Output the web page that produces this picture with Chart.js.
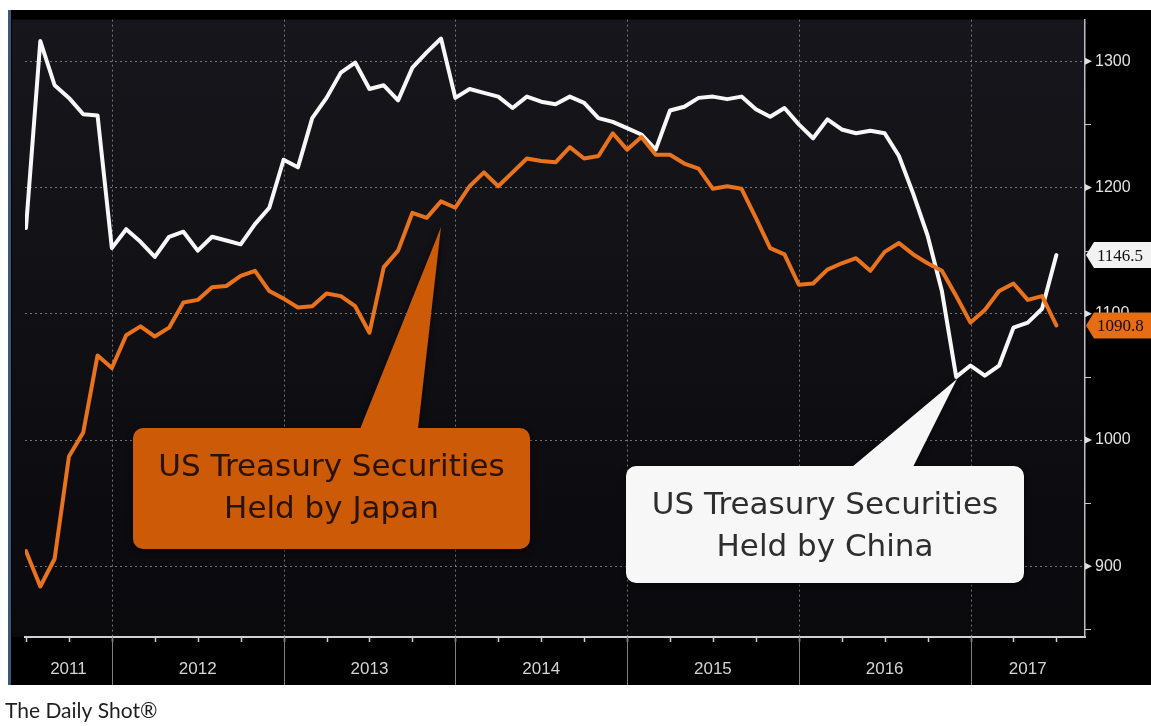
<!DOCTYPE html>
<html>
<head>
<meta charset="utf-8">
<title>US Treasury Securities held by China and Japan</title>
<script src="https://cdn.jsdelivr.net/npm/chart.js@4.4.1/dist/chart.umd.min.js"></script>
<style>
  html, body { margin: 0; padding: 0; background: #fff; }
  canvas { display: block; }
</style>
</head>
<body>
<canvas id="myChart" width="1151" height="726"></canvas>
<script>
// monthly holdings, USD bn, first point = end of June 2011
const firstMonth = 6; // months counted from Jan 2011
const chinaHoldings = [
  1168, 1316, 1281, 1271, 1258, 1257, 1152, 1167, 1157, 1145,
  1161, 1165, 1150, 1161, 1158, 1155, 1171, 1184, 1222, 1216,
  1255, 1271, 1291, 1299, 1278, 1281, 1269, 1295, 1307, 1318,
  1271, 1278, 1275, 1272, 1263, 1272, 1268, 1266, 1272, 1267,
  1255, 1252, 1247, 1242, 1230, 1261, 1264, 1271, 1272, 1270,
  1272, 1262, 1256, 1263, 1250, 1239, 1254, 1246, 1243, 1245,
  1243, 1225, 1195, 1162, 1118, 1050, 1059, 1051, 1059, 1089,
  1093, 1104, 1146.5
];
const japanHoldings = [
  912, 884, 906, 987, 1006, 1067, 1057, 1083, 1090, 1082,
  1089, 1109, 1111, 1121, 1122, 1130, 1134, 1118, 1112, 1105,
  1106, 1116, 1114, 1106, 1085, 1137, 1150, 1180, 1176, 1189,
  1184, 1201, 1212, 1201, 1212, 1223, 1221, 1220, 1232, 1223,
  1225, 1243, 1230, 1240, 1226, 1226, 1219, 1215, 1199, 1201,
  1199, 1176, 1152, 1147, 1123, 1124, 1135, 1140, 1144, 1134,
  1149, 1156, 1147, 1140, 1134, 1114, 1093, 1103, 1118, 1124,
  1111, 1114, 1090.8
];
const yearLabels = ['2011', '2012', '2013', '2014', '2015', '2016', '2017'];
const yMajorTicks = [900, 1000, 1100, 1200, 1300];
const yMinorTicks = [850, 950, 1050, 1150, 1250];

const xMin = 5.93, xMax = 80;

function toPoints(arr) {
  return arr.map((v, i) => ({ x: firstMonth + i, y: v }));
}

// year label sits in the middle of the visible part of each year
function yearCenters() {
  return yearLabels.map((y, k) => {
    const a = Math.max(k * 12, xMin);
    const b = Math.min((k + 1) * 12, xMax);
    return (a + b) / 2;
  });
}

function tag(ctx, y, text, fill, color) {
  ctx.save();
  ctx.beginPath();
  ctx.moveTo(1086, y);
  ctx.lineTo(1094, y - 13);
  ctx.lineTo(1160, y - 13);
  ctx.lineTo(1160, y + 13);
  ctx.lineTo(1094, y + 13);
  ctx.closePath();
  ctx.fillStyle = fill;
  ctx.fill();
  ctx.fillStyle = color;
  ctx.font = "17px 'Liberation Serif', serif";
  ctx.textAlign = 'left';
  ctx.textBaseline = 'middle';
  ctx.fillText(text, 1097, y + 1);
  ctx.restore();
}

function callout(ctx, box, base, apex, fill, color, lines) {
  ctx.save();
  ctx.beginPath();
  ctx.roundRect(box.x, box.y, box.w, box.h, 10);
  ctx.moveTo(base[0], box.y + 1);
  ctx.lineTo(apex[0], apex[1]);
  ctx.lineTo(base[1], box.y + 1);
  ctx.closePath();
  ctx.shadowColor = 'rgba(0,0,0,0.6)';
  ctx.shadowBlur = 6;
  ctx.shadowOffsetY = 2;
  ctx.fillStyle = fill;
  ctx.fill('nonzero');
  ctx.shadowColor = 'transparent';
  ctx.fillStyle = color;
  ctx.font = "31px 'DejaVu Sans', sans-serif";
  ctx.textAlign = 'center';
  ctx.textBaseline = 'middle';
  const cx = box.x + box.w / 2;
  ctx.fillText(lines[0], cx, box.y + 40);
  ctx.fillText(lines[1], cx, box.y + 82);
  ctx.restore();
}

const framePlugin = {
  id: 'frame',
  beforeDraw(chart) {
    const { ctx, chartArea: a, width, height } = chart;
    ctx.save();
    ctx.fillStyle = '#ffffff';
    ctx.fillRect(0, 0, width, height);
    ctx.fillStyle = '#000000';
    ctx.fillRect(10, 10, width - 10, 675);
    ctx.fillStyle = '#3d5873';
    ctx.fillRect(8, 10, 3, 675);
    const g = ctx.createLinearGradient(0, a.top, 0, a.bottom);
    g.addColorStop(0, '#16161c');
    g.addColorStop(1, '#0a0a0d');
    ctx.fillStyle = g;
    ctx.fillRect(12, a.top, a.right - 12, a.bottom - a.top);
    ctx.restore();
  },
  beforeDatasetsDraw(chart) {
    const { ctx, chartArea: a, scales: { x } } = chart;
    ctx.save();
    ctx.strokeStyle = 'rgba(150,150,150,0.75)';
    ctx.lineWidth = 1;
    ctx.setLineDash([2, 3]);
    for (let m = 12; m < xMax; m += 12) {
      const px = Math.round(x.getPixelForValue(m)) + 0.5;
      ctx.beginPath();
      ctx.moveTo(px, a.top);
      ctx.lineTo(px, a.bottom);
      ctx.stroke();
    }
    ctx.restore();
  },
  afterDraw(chart) {
    const { ctx, chartArea: a, scales: { x, y } } = chart;
    ctx.save();
    // quarter ticks under the time axis
    ctx.strokeStyle = '#cfcfcf';
    ctx.lineWidth = 1.5;
    for (let m = firstMonth; m < xMax; m += 3) {
      const px = Math.round(x.getPixelForValue(m)) + 0.5;
      ctx.beginPath();
      ctx.moveTo(px, a.bottom);
      ctx.lineTo(px, a.bottom + 5);
      ctx.stroke();
    }
    // year separators
    ctx.strokeStyle = '#808080';
    ctx.lineWidth = 1;
    for (let m = 12; m < xMax; m += 12) {
      const px = Math.round(x.getPixelForValue(m)) + 0.5;
      ctx.beginPath();
      ctx.moveTo(px, a.bottom);
      ctx.lineTo(px, 685);
      ctx.stroke();
    }
    // value axis: minor ticks and pointers
    ctx.strokeStyle = '#c8c8c8';
    yMinorTicks.forEach(v => {
      const py = Math.round(y.getPixelForValue(v)) + 0.5;
      ctx.beginPath();
      ctx.moveTo(a.right, py);
      ctx.lineTo(a.right + 6, py);
      ctx.stroke();
    });
    ctx.fillStyle = '#e0e0e0';
    yMajorTicks.forEach(v => {
      const py = y.getPixelForValue(v);
      ctx.beginPath();
      ctx.moveTo(a.right, py - 3.5);
      ctx.lineTo(a.right + 7, py);
      ctx.lineTo(a.right, py + 3.5);
      ctx.closePath();
      ctx.fill();
    });
    ctx.restore();

    callout(ctx, { x: 133, y: 428, w: 397, h: 121 }, [360, 418], [441, 227],
      '#cc5a06', '#2a1204', ['US Treasury Securities', 'Held by Japan']);
    callout(ctx, { x: 626, y: 466, w: 398, h: 117 }, [852, 913], [957, 379],
      '#f7f7f7', '#2e2e2e', ['US Treasury Securities', 'Held by China']);

    const lastChina = chinaHoldings[chinaHoldings.length - 1];
    const lastJapan = japanHoldings[japanHoldings.length - 1];
    tag(ctx, y.getPixelForValue(lastChina), lastChina.toFixed(1), '#f2f2f2', '#111111');
    tag(ctx, y.getPixelForValue(lastJapan), lastJapan.toFixed(1), '#e66d12', '#1a0a00');

    ctx.save();
    ctx.fillStyle = '#1e1e1e';
    ctx.font = "21px Lato, 'Open Sans', sans-serif";
    ctx.textAlign = 'left';
    ctx.textBaseline = 'alphabetic';
    ctx.fillText('The Daily Shot\u00AE', 5, 718);
    ctx.restore();
  }
};

const ctx = document.getElementById('myChart');

const myChart = new Chart(ctx, {
  type: 'line',
  data: {
    datasets: [
      {
        label: 'Japan',
        data: toPoints(japanHoldings),
        borderColor: '#e8731c',
        borderWidth: 4
      },
      {
        label: 'China',
        data: toPoints(chinaHoldings),
        borderColor: '#f7f7f7',
        borderWidth: 4
      }
    ]
  },
  options: {
    responsive: false,
    animation: false,
    devicePixelRatio: 1,
    layout: { padding: { top: 11, left: 25, right: 0, bottom: 41 } },
    elements: {
      point: { radius: 0 },
      line: { tension: 0, borderJoinStyle: 'round', borderCapStyle: 'round' }
    },
    plugins: {
      legend: { display: false },
      tooltip: { enabled: false }
    },
    scales: {
      x: {
        type: 'linear',
        min: xMin,
        max: xMax,
        afterFit: s => { s.height = 48; },
        afterBuildTicks: s => { s.ticks = yearCenters().map(v => ({ value: v })); },
        ticks: {
          callback: (v, i) => yearLabels[i],
          color: '#d4d4d4',
          font: { family: "'Liberation Sans', sans-serif", size: 17 },
          padding: 22,
          maxRotation: 0,
          autoSkip: false
        },
        grid: { display: false, drawTicks: false },
        border: { display: true, color: '#d0d0d0', width: 2 }
      },
      y: {
        position: 'right',
        min: 844,
        max: 1333,
        afterFit: s => { s.width = 66; },
        afterBuildTicks: s => { s.ticks = yMajorTicks.map(v => ({ value: v })); },
        ticks: {
          callback: v => String(v),
          color: '#e2e2e2',
          padding: 10,
          font: { family: "'Liberation Sans', sans-serif", size: 16 }
        },
        grid: { color: 'rgba(150,150,150,0.75)', lineWidth: 1, drawTicks: false },
        border: { display: true, color: '#bdbdbd', width: 1.5, dash: [2, 3] }
      }
    }
  },
  plugins: [framePlugin]
});
</script>
</body>
</html>
